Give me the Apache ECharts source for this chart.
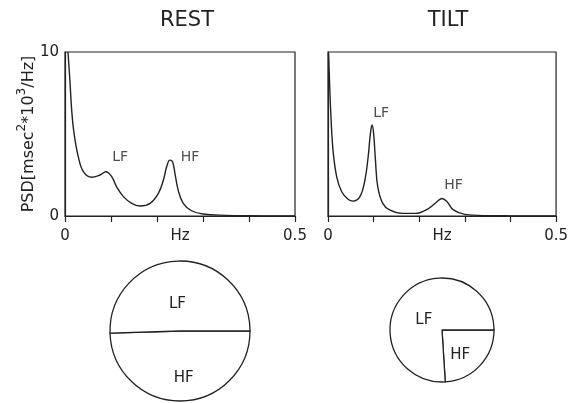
<!DOCTYPE html>
<html>
<head>
<meta charset="utf-8">
<script src="https://cdn.jsdelivr.net/npm/echarts@6/dist/echarts.min.js"></script>
<style>
html,body{margin:0;padding:0;background:#fff;}
#c{width:571px;height:403px;}
</style>
</head>
<body>
<div id="c"></div>
<script>
// ---- data ----
var restFreq = [0.0065,0.011,0.0145,0.0196,0.029,0.040,0.058,0.076,0.089,0.1015,0.112,0.127,0.145,0.163,0.185,0.203,0.214,0.221,0.228,0.234,0.239,0.246,0.257,0.275,0.30,0.35,0.40,0.5];
var restPsd  = [10.0,8.1,6.46,5.06,3.6,2.7,2.36,2.5,2.7,2.4,1.79,1.18,0.77,0.61,0.77,1.38,2.2,3.0,3.41,3.3,2.6,1.58,0.77,0.32,0.12,0.04,0.015,0.0];
var tiltFreq = [0.0013,0.0035,0.0065,0.011,0.019,0.030,0.0446,0.055,0.070,0.081,0.088,0.093,0.0965,0.100,0.104,0.109,0.120,0.135,0.163,0.192,0.221,0.239,0.25,0.261,0.275,0.30,0.35,0.40,0.5];
var tiltPsd  = [9.9,8.1,6.05,4.02,2.4,1.48,1.01,0.91,1.18,2.2,3.6,5.04,5.55,5.04,3.41,1.79,0.77,0.37,0.16,0.16,0.47,0.87,1.07,0.87,0.37,0.1,0.02,0.01,0.0];
var restPeakNames = ['LF','HF'];
var restPeakPos = [[0.120,3.6],[0.272,3.6]];
var tiltPeakNames = ['LF','HF'];
var tiltPeakPos = [[0.1167,6.28],[0.275,1.89]];
var pieNames = ['HF','LF'];
var restShare = [49.5,50.5];
var tiltShare = [24,76];
var xTickLabels = {'0':'0','0.5':'0.5'};
var yTickLabels = {'0':'0','10':'10'};
var titles = ['REST','TILT'];

// ---- chart ----
var ink = '#222';
var font = 'DejaVu Sans';
function zip(a,b){return a.map(function(v,i){return [v,b[i]];});}
function xAxisCfg(idx){
  return {
    type:'value', gridIndex:idx, min:0, max:0.5, interval:0.1,
    name:'Hz', nameLocation:'middle', nameGap:13, nameMoveOverlap:false,
    nameTextStyle:{color:ink,fontSize:15,fontFamily:font,verticalAlign:'top'},
    axisLine:{show:true,lineStyle:{color:ink,width:1.2}},
    axisTick:{show:true,length:6,lineStyle:{color:ink,width:1.2}},
    splitLine:{show:false},
    axisLabel:{color:ink,fontSize:15,fontFamily:font,margin:13,
      formatter:function(v){var k=String(+v.toFixed(2));return xTickLabels[k]||'';}}
  };
}
function yAxisCfg(idx, showLabels){
  var c = {
    type:'value', gridIndex:idx, min:0, max:10, interval:10,
    axisLine:{show:true,lineStyle:{color:ink,width:1.2}},
    axisTick:{show:false},
    splitLine:{show:false},
    axisLabel:{show:showLabels,color:ink,fontSize:15,fontFamily:font,margin:6,
      formatter:function(v){return yTickLabels[String(v)]||'';}}
  };
  if(showLabels){
    c.name='PSD[msec{sup|2}*10{sup|3}/Hz]';
    c.nameLocation='middle';
    c.nameRotate=90;
    c.nameGap=24;
    c.nameMoveOverlap=false;
    c.nameTextStyle={color:ink,fontSize:16,fontFamily:font,
      rich:{sup:{fontSize:12,fontFamily:font,color:ink,verticalAlign:'bottom',padding:[0,0,13,0]}}};
  }
  return c;
}
function peakLabels(idx,names,pos){
  return {
    type:'scatter', xAxisIndex:idx, yAxisIndex:idx, symbolSize:0, silent:true,
    data:pos.map(function(p,i){return {value:p,name:names[i]};}),
    label:{show:true,position:'inside',formatter:'{b}',color:ink,fontSize:14,fontFamily:font}
  };
}
function pieCfg(center,radius,share,shifts){
  return {
    type:'pie', center:center, radius:radius, startAngle:0, clockwise:true,
    silent:true, animation:false,
    data:share.map(function(v,i){return {value:v,name:pieNames[i]};}),
    itemStyle:{color:'#fff',borderColor:ink,borderWidth:1.3},
    label:{show:true,position:'inside',formatter:'{b}',color:ink,fontSize:15,fontFamily:font},
    labelLine:{show:false},
    labelLayout:function(p){return {dx:shifts[p.dataIndex][0],dy:shifts[p.dataIndex][1]};},
    emphasis:{disabled:true}
  };
}
var restPie = pieCfg([180,331],70,restShare,[[3,9],[-2,11]]);
var tiltPie = pieCfg([442,330],52,tiltShare,[[-3,5],[3,10]]);

var chart = echarts.init(document.getElementById('c'),null,{renderer:'canvas'});
chart.setOption({
  backgroundColor:'#fff',
  animation:false,
  title:[
    {text:titles[0],left:182,top:5,textAlign:'center',textStyle:{color:ink,fontSize:21,fontWeight:'normal',fontFamily:font}},
    {text:titles[1],left:443,top:5,textAlign:'center',textStyle:{color:ink,fontSize:21,fontWeight:'normal',fontFamily:font}}
  ],
  grid:[
    {left:65,top:52,width:230,height:164,show:true,borderColor:ink,borderWidth:1.2,backgroundColor:'transparent'},
    {left:328,top:52,width:231,height:164,show:true,borderColor:ink,borderWidth:1.2,backgroundColor:'transparent'}
  ],
  xAxis:[xAxisCfg(0),xAxisCfg(1)],
  yAxis:[yAxisCfg(0,true),yAxisCfg(1,false)],
  series:[
    {type:'line',xAxisIndex:0,yAxisIndex:0,data:zip(restFreq,restPsd),symbol:'none',smooth:0.4,
      lineStyle:{color:ink,width:1.4},silent:true},
    {type:'line',xAxisIndex:1,yAxisIndex:1,data:zip(tiltFreq,tiltPsd),symbol:'none',smooth:0.4,
      lineStyle:{color:ink,width:1.4},silent:true},
    peakLabels(0,restPeakNames,restPeakPos),
    peakLabels(1,tiltPeakNames,tiltPeakPos),
    restPie,
    tiltPie
  ]
});
</script>
</body>
</html>
